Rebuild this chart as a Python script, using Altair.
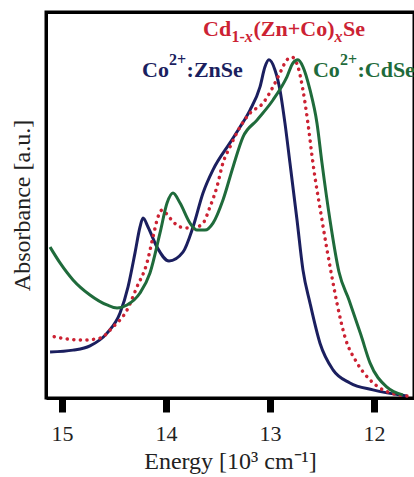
import altair as alt
import pandas as pd

# Co2+:ZnSe (navy)
zn_E = [15.115, 14.894, 14.731, 14.567, 14.442, 14.365, 14.298, 14.250, 14.221, 14.173,
        14.087, 13.971, 13.837, 13.740, 13.644, 13.548, 13.385, 13.288, 13.192, 13.096,
        13.048, 13.010, 12.952, 12.904, 12.856, 12.808, 12.740, 12.683, 12.615, 12.519,
        12.394, 12.231, 12.010, 11.683]
zn_A = [0.119, 0.124, 0.135, 0.168, 0.220, 0.288, 0.376, 0.443, 0.466, 0.443,
        0.391, 0.355, 0.378, 0.443, 0.531, 0.591, 0.661, 0.702, 0.746, 0.806,
        0.858, 0.876, 0.850, 0.798, 0.712, 0.609, 0.461, 0.332, 0.246, 0.142,
        0.073, 0.039, 0.021, 0.005]

# Co2+:CdSe (green)
cd_E = [15.115, 15.019, 14.894, 14.731, 14.567, 14.471, 14.375, 14.250, 14.154, 14.058,
        13.990, 13.933, 13.865, 13.769, 13.702, 13.625, 13.548, 13.452, 13.356, 13.260,
        13.125, 12.971, 12.837, 12.779, 12.731, 12.683, 12.615, 12.548, 12.500, 12.423,
        12.337, 12.240, 12.125, 12.038, 11.875, 11.721]
cd_A = [0.391, 0.350, 0.306, 0.267, 0.241, 0.233, 0.241, 0.272, 0.324, 0.427,
        0.505, 0.531, 0.505, 0.453, 0.435, 0.435, 0.453, 0.513, 0.598, 0.676,
        0.720, 0.772, 0.832, 0.868, 0.876, 0.858, 0.798, 0.712, 0.609, 0.461,
        0.327, 0.254, 0.163, 0.091, 0.028, 0.008]

# Cd1-x(Zn+Co)xSe (red dotted)
mix_E = [15.115, 14.952, 14.798, 14.635, 14.510, 14.375, 14.279, 14.183, 14.125, 14.077,
         14.038, 13.962, 13.865, 13.740, 13.644, 13.577, 13.510, 13.452, 13.385, 13.288,
         13.192, 13.067, 12.971, 12.904, 12.837, 12.788, 12.731, 12.683, 12.635, 12.587,
         12.500, 12.404, 12.356, 12.279, 12.163, 12.038, 11.913, 11.683]
mix_A = [0.161, 0.153, 0.150, 0.155, 0.184, 0.228, 0.288, 0.350, 0.417, 0.469,
         0.487, 0.466, 0.443, 0.440, 0.453, 0.495, 0.547, 0.609, 0.650, 0.702,
         0.738, 0.764, 0.806, 0.842, 0.876, 0.883, 0.858, 0.798, 0.712, 0.609,
         0.461, 0.313, 0.246, 0.158, 0.091, 0.047, 0.021, 0.005]

x_ticks = [15, 14, 13, 12]
x_range = [11.615, 15.154]
y_range = [0, 1]

# curve labels: text pieces and anchor (energy, absorbance)
zn_label = ["Co", "2+", ":ZnSe"]
cd_label = ["Co", "2+", ":CdSe"]
mix_label = ["Cd", "1-", "x", "(Zn+Co)", "x", "Se"]
zn_pos = (14.23, 0.832)
cd_pos = (12.587, 0.832)
mix_pos = (13.644, 0.938)

NAVY, GREEN, RED = "#1b1f5f", "#1f6b3b", "#cc2233"
FONT = "Liberation Serif"
W, H = 368, 386

xs = alt.Scale(domain=x_range, reverse=True, nice=False, zero=False)
ys = alt.Scale(domain=y_range, nice=False, zero=False)

xenc = alt.X("E:Q", scale=xs, axis=alt.Axis(
    values=x_ticks, format="d", title="Energy [10³ cm⁻¹]",
    tickSize=14, tickWidth=7, tickColor="black", domainColor="black", domainWidth=3,
    labelFont=FONT, labelFontSize=22, labelColor="#222", labelPadding=11,
    titleFont=FONT, titleFontSize=24, titleFontWeight="normal", titleColor="#222",
    titlePadding=5, grid=False))
yenc = alt.Y("A:Q", scale=ys, axis=alt.Axis(
    ticks=False, labels=False, title="Absorbance [a.u.]", domainColor="black",
    domainWidth=3, titleFont=FONT, titleFontSize=24, titleFontWeight="normal",
    titleColor="#222", titlePadding=12, grid=False))


def line(E, A, color, dotted=False):
    df = pd.DataFrame({"E": E, "A": A})
    if dotted:
        m = alt.Chart(df).mark_line(color=color, strokeWidth=3.5, strokeDash=[0.1, 6.5],
                                    strokeCap="round", interpolate="monotone")
    else:
        m = alt.Chart(df).mark_line(color=color, strokeWidth=3, interpolate="monotone")
    return m.encode(x=xenc, y=yenc, order=alt.Order("E:Q"))


def piece(text, pos, color, dx, dy=0, size=22, italic=False):
    df = pd.DataFrame({"t": [text], "E": [pos[0]], "A": [pos[1]]})
    kw = dict(font=FONT, fontSize=size, fontWeight="bold", align="left",
              baseline="alphabetic", color=color, dx=dx, dy=dy)
    if italic:
        kw["fontStyle"] = "italic"
    return alt.Chart(df).mark_text(**kw).encode(
        x=alt.X("E:Q", scale=xs), y=alt.Y("A:Q", scale=ys), text="t:N")


# top frame: a second x axis on top with only its domain line
top = alt.Chart(pd.DataFrame({"E": x_range, "A": y_range})).mark_point(opacity=0).encode(
    x=alt.X("E:Q", scale=xs, axis=alt.Axis(
        orient="top", labels=False, ticks=False, title=None, grid=False,
        domainColor="black", domainWidth=3)),
    y=alt.Y("A:Q", scale=ys))

texts = [
    piece(zn_label[0], zn_pos, NAVY, 0),
    piece(zn_label[1], zn_pos, NAVY, 27, -12, 16),
    piece(zn_label[2], zn_pos, NAVY, 44.5),
    piece(cd_label[0], cd_pos, GREEN, 0),
    piece(cd_label[1], cd_pos, GREEN, 27, -12, 16),
    piece(cd_label[2], cd_pos, GREEN, 44.5),
    piece(mix_label[0], mix_pos, RED, 0),
    piece(mix_label[1], mix_pos, RED, 28.5, 6, 16),
    piece(mix_label[2], mix_pos, RED, 41.8, 6, 16, italic=True),
    piece(mix_label[3], mix_pos, RED, 50.5),
    piece(mix_label[4], mix_pos, RED, 131.5, 6, 16, italic=True),
    piece(mix_label[5], mix_pos, RED, 140),
]

curves = alt.layer(
    line(zn_E, zn_A, NAVY),
    line(mix_E, mix_A, RED, dotted=True),
    line(cd_E, cd_A, GREEN),
    *texts
)

chart = alt.layer(curves, top).resolve_axis(x="independent").properties(
    width=W, height=H,
    autosize=alt.AutoSizeParams(type="none"),
    padding={"left": 46, "top": 12, "right": 0, "bottom": 79},
    background="white"
).configure_view(stroke="black", strokeWidth=3)

chart.save("out.html", embed_options={"renderer": "svg", "actions": False})
